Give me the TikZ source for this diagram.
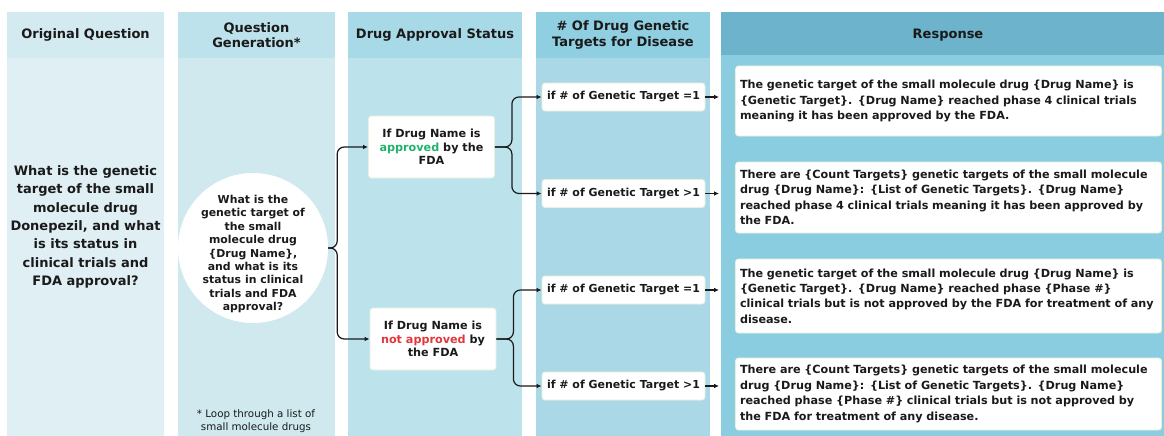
\documentclass[tikz,border=0pt]{standalone}
\usepackage{fontspec}
\setmainfont{DejaVu Sans}
\usetikzlibrary{arrows.meta}
\definecolor{ink}{HTML}{1A1A1A}
\definecolor{headA}{HTML}{D3EAF1}
\definecolor{bodyA}{HTML}{DFEFF4}
\definecolor{headB}{HTML}{BDE2EB}
\definecolor{bodyB}{HTML}{CFE9EF}
\definecolor{headC}{HTML}{A8D9E6}
\definecolor{bodyC}{HTML}{BCE3EC}
\definecolor{headD}{HTML}{8FCFE1}
\definecolor{bodyD}{HTML}{ABD8E6}
\definecolor{headE}{HTML}{6CB3CB}
\definecolor{bodyE}{HTML}{8BCDE0}
\definecolor{okgreen}{HTML}{1FB36A}
\definecolor{nored}{HTML}{E2373A}
\definecolor{edge}{HTML}{E8F0DF}

\begin{document}
\begin{tikzpicture}[x=1pt,y=-1pt,
  head/.style={align=center, text=ink, font=\bfseries\fontsize{13}{15.3}\selectfont},
  box/.style={fill=white, draw=edge, line width=0.8pt, rounded corners=3pt, align=center, text=ink, inner sep=2pt},
  status/.style={box, minimum width=126pt, minimum height=62pt, font=\bfseries\fontsize{11.2}{13.3}\selectfont},
  target/.style={box, minimum width=163pt, minimum height=28pt, font=\bfseries\fontsize{11}{13}\selectfont},
  reply/.style={box, align=left, text width=417pt, minimum width=423pt, minimum height=72pt, inner xsep=4.5pt, inner ysep=5pt, font=\bfseries\fontsize{11.2}{15.4}\selectfont},
  link/.style={draw=ink, line width=1.2pt, rounded corners=7pt, -{Latex[length=5pt,width=4.5pt]}}]
\useasboundingbox (0,0) rectangle (1164,436);
\fill[white] (0,0) rectangle (1164,436);

\fill[bodyA] (7,12) rectangle (164,436);
\fill[headA] (7,12) rectangle (164,58);
\fill[bodyB] (178,12) rectangle (335,436);
\fill[headB] (178,12) rectangle (335,58);
\fill[bodyC] (348,12) rectangle (522,436);
\fill[headC] (348,12) rectangle (522,58);
\fill[bodyD] (536,12) rectangle (710,436);
\fill[headD] (536,12) rectangle (710,58);
\fill[bodyE] (721,12) rectangle (1164,436);
\fill[headE] (721,12) rectangle (1164,55);

\node[head] (h1) at (85.5,35) {Original Question};
\node[head] (h2) at (256.5,35) {Question\\Generation*};
\node[head] (h3) at (435,35) {Drug Approval Status};
\node[head] (h4) at (623,35) {\# Of Drug Genetic\\Targets for Disease};
\node[head] (h5) at (948,35) {Response};

\node[head, font=\bfseries\fontsize{13}{18.3}\selectfont] (orig) at (85.5,227)
  {What is the genetic\\target of the small\\molecule drug\\Donepezil, and what\\is its status in\\clinical trials and\\FDA approval?};

\node[circle, fill=white, minimum size=150pt, inner sep=0pt] (gen) at (253,248) {};
\node[align=center, text=ink, font=\bfseries\fontsize{10.9}{13.4}\selectfont] (genq) at ([yshift=-6pt]gen.center)
  {What is the\\genetic target of\\the small\\molecule drug\\\{Drug Name\},\\and what is its\\status in clinical\\trials and FDA\\approval?};
\node[align=center, text=ink, font=\fontsize{10.3}{12.4}\selectfont] (loop) at (256,421)
  {* Loop through a list of\\small molecule drugs};

\node[status] (yes) at (431.5,147) {If Drug Name is\\\textcolor{okgreen}{approved} by the\\FDA};
\node[status] (no) at (433,339) {If Drug Name is\\\textcolor{nored}{not approved} by\\the FDA};

\node[target] (t1) at (623.5,97) {if \# of Genetic Target =1};
\node[target] (t2) at (623.5,193.5) {if \# of Genetic Target >1};
\node[target] (t3) at (623.5,290) {if \# of Genetic Target =1};
\node[target] (t4) at (623.5,386) {if \# of Genetic Target >1};

\node[reply, minimum height=70pt] (r1) at (948.5,101)
  {The genetic target of the small molecule drug \{Drug Name\} is\\\{Genetic Target\}. \{Drug Name\} reached phase 4 clinical trials\\meaning it has been approved by the FDA.};
\node[reply, minimum height=71pt] (r2) at (948.5,197.5)
  {There are \{Count Targets\} genetic targets of the small molecule\\drug \{Drug Name\}: \{List of Genetic Targets\}. \{Drug Name\}\\reached phase 4 clinical trials meaning it has been approved by\\the FDA.};
\node[reply, minimum height=74pt] (r3) at (948.5,296)
  {The genetic target of the small molecule drug \{Drug Name\} is\\\{Genetic Target\}. \{Drug Name\} reached phase \{Phase \#\}\\clinical trials but is not approved by the FDA for treatment of any\\disease.};
\node[reply, minimum height=72pt] (r4) at (948.5,394)
  {There are \{Count Targets\} genetic targets of the small molecule\\drug \{Drug Name\}: \{List of Genetic Targets\}. \{Drug Name\}\\reached phase \{Phase \#\} clinical trials but is not approved by\\the FDA for treatment of any disease.};

\draw[link] (gen.east) -- ++(9,0) |- (yes.west);
\draw[link] (gen.east) -- ++(9,0) |- (no.west);
\draw[link] (yes.east) -- ++(17,0) |- (t1.west);
\draw[link] (yes.east) -- ++(17,0) |- (t2.west);
\draw[link] (no.east) -- ++(17,0) |- (t3.west);
\draw[link] (no.east) -- ++(17,0) |- (t4.west);
\draw[link, shorten >=16pt] (t1.east) -- (t1 -| r1.west);
\draw[link, shorten >=16pt] (t2.east) -- (t2 -| r2.west);
\draw[link, shorten >=16pt] (t3.east) -- (t3 -| r3.west);
\draw[link, shorten >=16pt] (t4.east) -- (t4 -| r4.west);
\end{tikzpicture}
\end{document}
